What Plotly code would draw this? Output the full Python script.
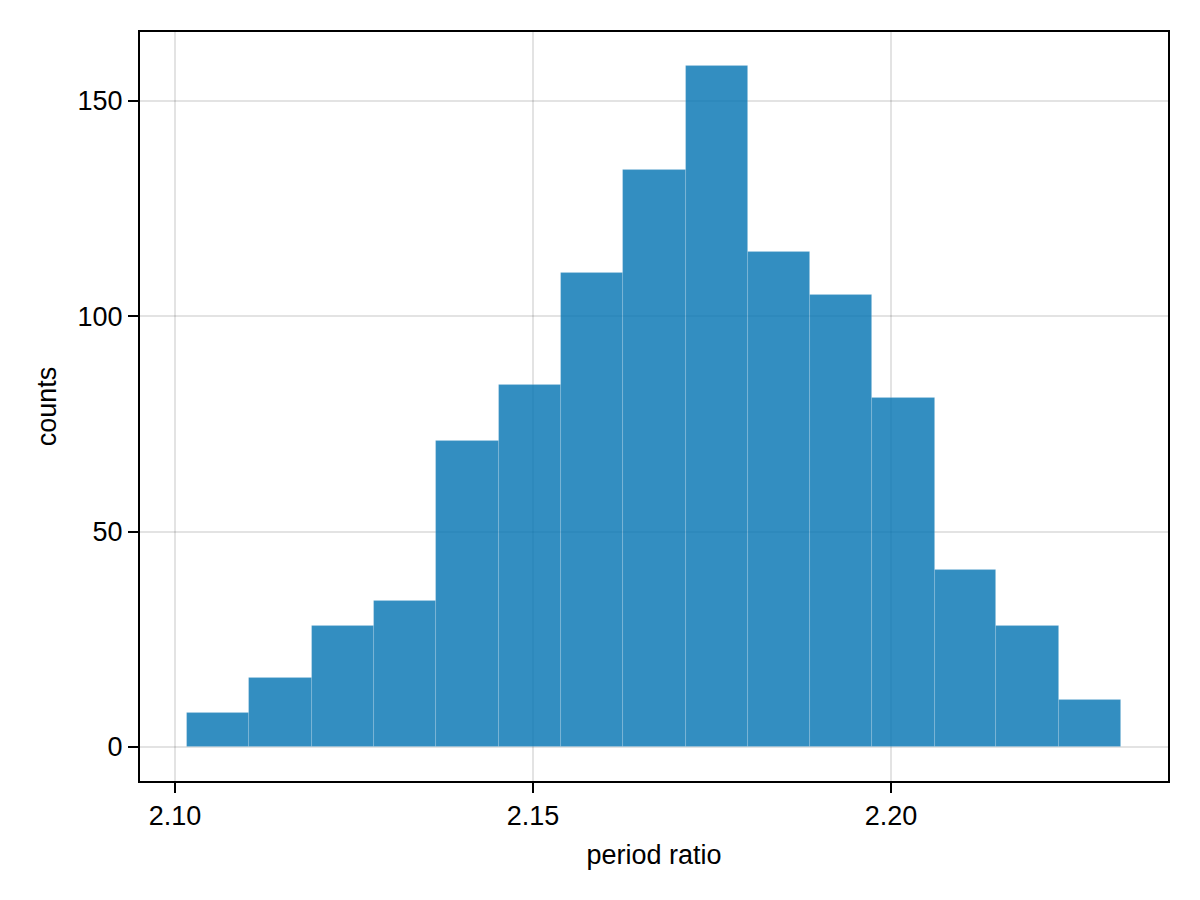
import numpy as np
import plotly.graph_objects as go

# Histogram bin edges (period ratio) and counts
bin_edges = [2.1017, 2.1104, 2.1191, 2.1278, 2.1365, 2.1452, 2.1539, 2.1626,
             2.1713, 2.1800, 2.1887, 2.1974, 2.2061, 2.2147, 2.2234, 2.2321]
counts = [8, 16, 28, 34, 71, 84, 110, 134, 158, 115, 105, 81, 41, 28, 11]

x_ticks = [2.10, 2.15, 2.20]
x_tick_labels = ["2.10", "2.15", "2.20"]
y_ticks = [0, 50, 100, 150]
y_tick_labels = ["0", "50", "100", "150"]

edges = np.array(bin_edges)
centers = (edges[:-1] + edges[1:]) / 2
widths = np.diff(edges)

fig = go.Figure()
fig.add_trace(go.Bar(
    x=centers, y=counts, width=widths,
    marker=dict(color="rgba(0,114,178,0.8)",
                line=dict(width=0.8, color="rgba(255,255,255,0.18)")),
    showlegend=False,
))

font_family = "Liberation Sans, Arial, sans-serif"
fig.update_layout(
    width=1200, height=900,
    margin=dict(l=140, r=32, t=32, b=119),
    paper_bgcolor="white", plot_bgcolor="white",
    bargap=0,
    font=dict(family=font_family, size=28, color="black"),
    xaxis=dict(
        range=[2.09511, 2.23869],
        tickvals=x_ticks, ticktext=x_tick_labels,
        ticks="outside", ticklen=10, tickwidth=2, tickcolor="black",
        showgrid=True, gridcolor="rgba(0,0,0,0.11)", gridwidth=2,
        showline=True, linecolor="black", linewidth=2, mirror=True,
        zeroline=False,
        tickfont=dict(size=27),
        title=dict(text="period ratio", font=dict(size=27), standoff=15),
    ),
    yaxis=dict(
        range=[-7.9, 166.0],
        tickvals=y_ticks, ticktext=y_tick_labels,
        ticks="outside", ticklen=10, tickwidth=2, tickcolor="black",
        showgrid=True, gridcolor="rgba(0,0,0,0.11)", gridwidth=2,
        showline=True, linecolor="black", linewidth=2, mirror=True,
        zeroline=False,
        tickfont=dict(size=27),
        title=dict(text="counts", font=dict(size=27), standoff=13),
    ),
)

fig.write_html("out.html")
